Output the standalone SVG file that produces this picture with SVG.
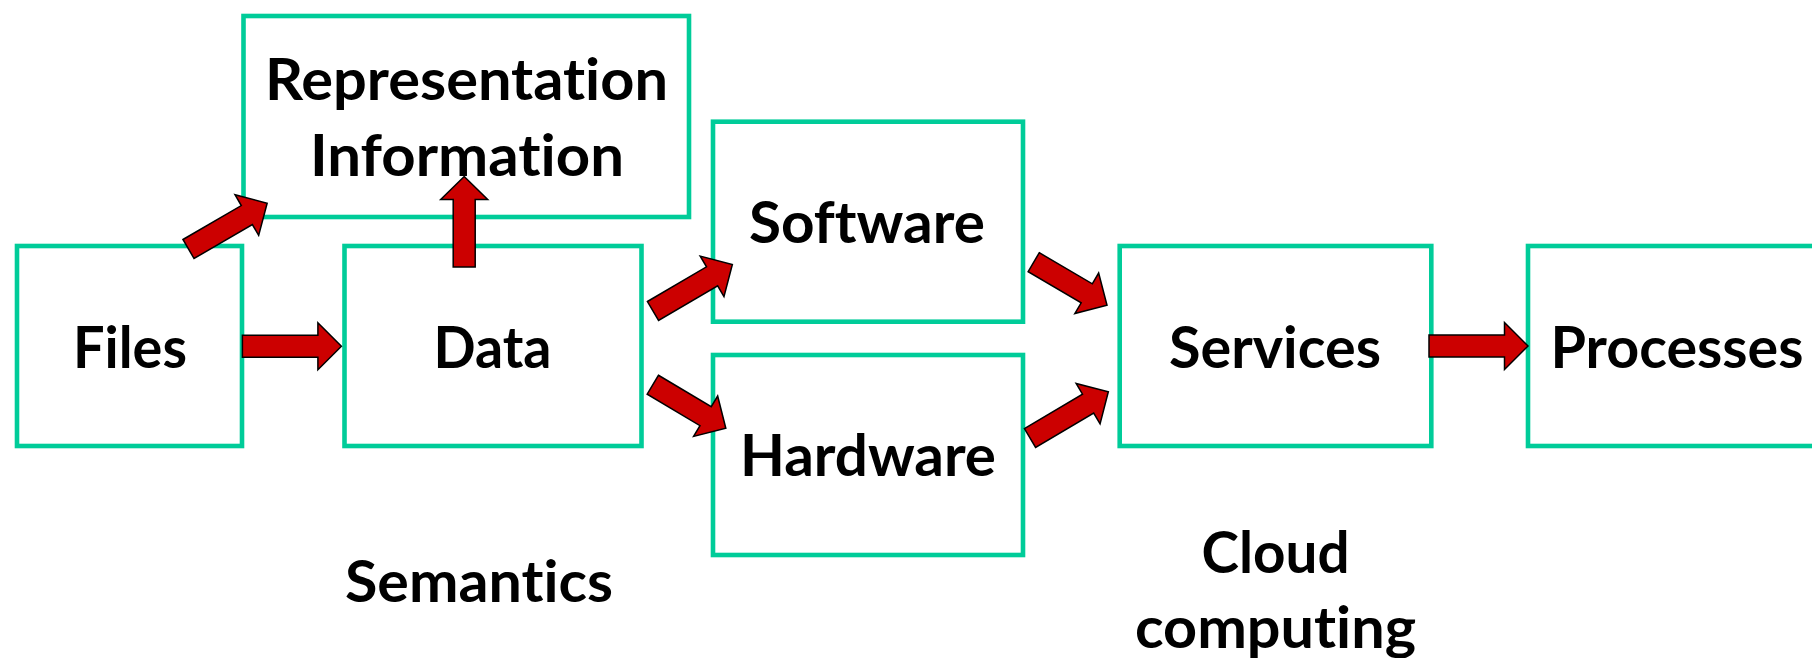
<svg xmlns="http://www.w3.org/2000/svg" width="1812" height="658" viewBox="0 0 1812 658">
<style>
.box{fill:#FFFFFF;stroke:#00CC99;stroke-width:4.6}
.lbl{font-family:Lato,"Open Sans","Liberation Sans",sans-serif;font-weight:bold;font-size:58px;fill:#000000;text-anchor:middle;font-variant-ligatures:none;font-feature-settings:"liga" 0}
.arr{fill:#CC0000;stroke:#000000;stroke-width:1.5;stroke-linejoin:miter}
</style>
<rect x="0" y="0" width="1812" height="658" fill="#FFFFFF"/>
<g id="node-repinfo">
<rect class="box" x="243.5" y="16" width="445.5" height="201"/>
<text class="lbl" x="466.5" y="100" textLength="403" lengthAdjust="spacingAndGlyphs">Representation</text>
<text class="lbl" x="467" y="176" textLength="314" lengthAdjust="spacingAndGlyphs">Information</text>
</g>
<g id="node-files">
<rect class="box" x="17" y="246" width="225" height="200"/>
<text class="lbl" x="130" y="367.7" textLength="114" lengthAdjust="spacingAndGlyphs">Files</text>
</g>
<g id="node-data">
<rect class="box" x="344.5" y="246" width="297" height="200"/>
<text class="lbl" x="492.5" y="367.7" textLength="118" lengthAdjust="spacingAndGlyphs">Data</text>
</g>
<g id="node-software">
<rect class="box" x="713" y="121.7" width="310" height="200"/>
<text class="lbl" x="867" y="242.7" textLength="236" lengthAdjust="spacingAndGlyphs">Software</text>
</g>
<g id="node-hardware">
<rect class="box" x="713" y="355" width="310" height="200"/>
<text class="lbl" x="868" y="476" textLength="256" lengthAdjust="spacingAndGlyphs">Hardware</text>
</g>
<g id="node-services">
<rect class="box" x="1119.7" y="246" width="311.6" height="200"/>
<text class="lbl" x="1275" y="367.5" textLength="212" lengthAdjust="spacingAndGlyphs">Services</text>
</g>
<g id="node-processes">
<rect class="box" x="1528" y="246" width="310" height="200"/>
<text class="lbl" x="1677" y="367.5" textLength="253" lengthAdjust="spacingAndGlyphs">Processes</text>
</g>
<g id="label-semantics">
<text class="lbl" x="479" y="601.7" textLength="268" lengthAdjust="spacingAndGlyphs">Semantics</text>
</g>
<g id="label-cloud">
<text class="lbl" x="1275.5" y="572.5" textLength="148" lengthAdjust="spacingAndGlyphs">Cloud</text>
<text class="lbl" x="1275.5" y="648" textLength="281" lengthAdjust="spacingAndGlyphs">computing</text>
</g>
<g id="connectors">
<path class="arr" transform="translate(188.5,249) rotate(-30.2)" d="M0,-11 H67.5 V-23.5 L91,0 L67.5,23.5 V11 H0 Z"/>
<path class="arr" transform="translate(242.4,346.3)" d="M0,-11 H75.5 V-23.5 L99,0 L75.5,23.5 V11 H0 Z"/>
<path class="arr" transform="translate(464.2,267) rotate(-90)" d="M0,-11 H67.5 V-23.5 L90.5,0 L67.5,23.5 V11 H0 Z"/>
<path class="arr" transform="translate(653,311) rotate(-30.4)" d="M0,-11 H68.5 V-23.5 L92,0 L68.5,23.5 V11 H0 Z"/>
<path class="arr" transform="translate(652.8,384.7) rotate(30.8)" d="M0,-11 H61.5 V-23.5 L85,0 L61.5,23.5 V11 H0 Z"/>
<path class="arr" transform="translate(1033.7,262.2) rotate(30.4)" d="M0,-11 H61.5 V-23.5 L85,0 L61.5,23.5 V11 H0 Z"/>
<path class="arr" transform="translate(1030,438) rotate(-30.6)" d="M0,-11 H67.5 V-23.5 L91,0 L67.5,23.5 V11 H0 Z"/>
<path class="arr" transform="translate(1429,346)" d="M0,-11 H75.5 V-23.5 L99,0 L75.5,23.5 V11 H0 Z"/>
</g>
</svg>
